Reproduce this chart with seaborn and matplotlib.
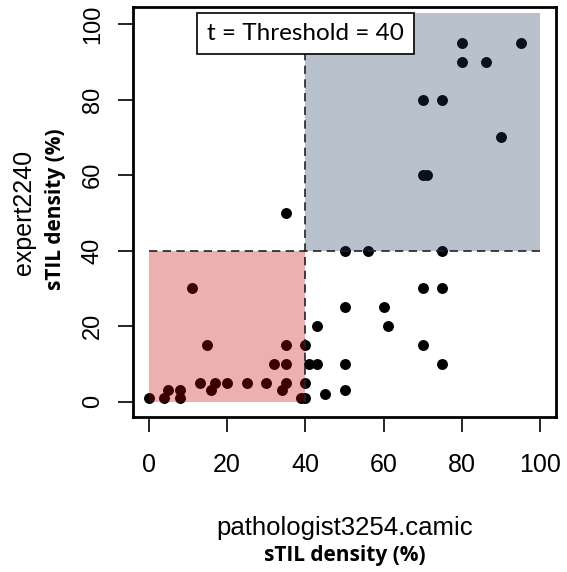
import matplotlib
matplotlib.use("Agg")
import matplotlib.pyplot as plt
import seaborn as sns
import pandas as pd
from matplotlib.patches import Rectangle

# ---- data ----
pathologist = [0, 4, 5, 8, 8, 11, 13, 15, 16, 17, 20, 25, 30, 32, 34, 35, 35, 35, 35,
               39, 40, 40, 40, 41, 43, 43, 45,
               50, 50, 50, 50, 56, 60, 61, 70, 70, 75, 75, 75,
               70, 71, 70, 75, 80, 80, 86, 90, 95]
expert = [1, 1, 3, 3, 1, 30, 5, 15, 3, 5, 5, 5, 5, 10, 3, 5, 10, 15, 50,
          1, 1, 5, 15, 10, 10, 20, 2,
          3, 10, 25, 40, 40, 25, 20, 15, 30, 10, 30, 40,
          60, 60, 80, 80, 90, 95, 90, 70, 95]
threshold = 40
upper = 100
ticks = [0, 20, 40, 60, 80, 100]
x_label = "pathologist3254.camic"
y_label = "expert2240"
unit_label = "sTIL density (%)"
box_text = "t = Threshold = 40"

df = pd.DataFrame({"x": pathologist, "y": expert})

sns.set_style("white")
plt.rcParams["font.family"] = ["Liberation Sans", "DejaVu Sans"]
plt.rcParams["text.color"] = "black"
plt.rcParams["xtick.color"] = "black"
plt.rcParams["ytick.color"] = "black"

W, H = 567, 572
fig = plt.figure(figsize=(W / 100, H / 100), dpi=100)
ax = fig.add_axes([133 / W, 1 - 416.7 / H, 423 / W, 409.7 / H])

sns.scatterplot(data=df, x="x", y="y", ax=ax, color="black", s=62,
                linewidth=0, zorder=2, legend=False)

# shaded regions drawn over the points (semi-transparent)
ax.add_patch(Rectangle((0, 0), threshold, threshold, facecolor=(0.78, 0.0, 0.0),
                       alpha=0.31, edgecolor="none", zorder=3))
ax.add_patch(Rectangle((threshold, threshold), upper - threshold, 103 - threshold,
                       facecolor=(0.10, 0.22, 0.36), alpha=0.31, edgecolor="none", zorder=3))

dash = (0, (5.0, 3.2))
ax.plot([0, upper], [threshold, threshold], color="#222222", lw=1.2, ls=dash, zorder=4)
ax.plot([threshold, threshold], [0, upper], color="#222222", lw=1.2, ls=dash, zorder=4)

ax.set_xlim(-4, 104)
ax.set_ylim(-4, 104.5)
ax.set_xticks(ticks)
ax.set_yticks(ticks)
ax.set_xticklabels([str(t) for t in ticks], fontsize=18)
ax.set_yticklabels([str(t) for t in ticks], fontsize=17, rotation=90, va="center")
ax.tick_params(axis="x", length=11, width=1.2, pad=15, bottom=True, direction="out")
ax.tick_params(axis="y", length=11, width=1.2, pad=10, left=True, direction="out")
for sp in ax.spines.values():
    sp.set_visible(True)
    sp.set_color("black")
    sp.set_linewidth(2.0)
ax.set_xlabel("")
ax.set_ylabel("")

# annotation box
bx0, bx1 = (197 - 133) / 423, (414 - 133) / 423
by0, by1 = (416.7 - 54) / 409.7, (416.7 - 13) / 409.7
ax.add_patch(Rectangle((bx0, by0), bx1 - bx0, by1 - by0, transform=ax.transAxes,
                       facecolor="white", edgecolor="black", linewidth=1.2,
                       zorder=5, clip_on=False))
ax.text((bx0 + bx1) / 2, (by0 + by1) / 2, box_text, transform=ax.transAxes, fontsize=17.5,
        family=["Lato", "DejaVu Sans"], ha="center", va="center", zorder=6)

fig.text(345 / W, 1 - 528 / H, x_label, fontsize=18.5, ha="center", va="center")
fig.text(345 / W, 1 - 555 / H, unit_label, fontsize=15, fontweight="bold",
         family=["Open Sans", "DejaVu Sans"], ha="center", va="center")
fig.text(24 / W, 1 - 212 / H, y_label, fontsize=18, rotation=90, ha="center", va="center")
fig.text(56 / W, 1 - 209 / H, unit_label, fontsize=15, fontweight="bold", rotation=90,
         family=["Open Sans", "DejaVu Sans"], ha="center", va="center")

fig.savefig("out.png", dpi=100)
